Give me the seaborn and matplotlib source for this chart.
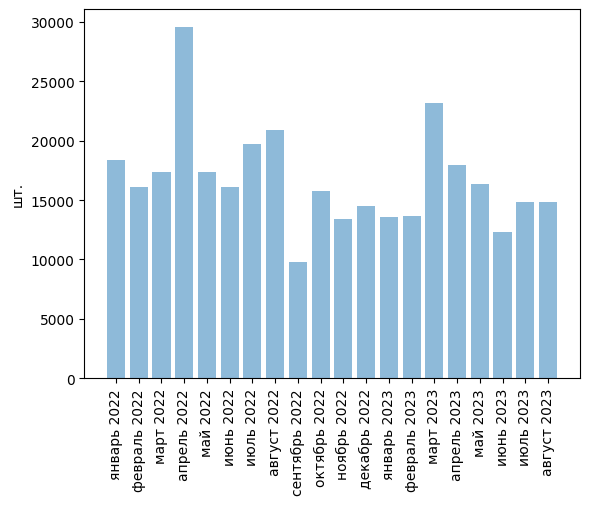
import matplotlib
matplotlib.use("Agg")
import matplotlib.pyplot as plt
import seaborn as sns

months = [
    "январь 2022", "февраль 2022", "март 2022", "апрель 2022", "май 2022",
    "июнь 2022", "июль 2022", "август 2022", "сентябрь 2022", "октябрь 2022",
    "ноябрь 2022", "декабрь 2022", "январь 2023", "февраль 2023", "март 2023",
    "апрель 2023", "май 2023", "июнь 2023", "июль 2023", "август 2023",
]
units = [
    18340, 16070, 17330, 29600, 17330,
    16070, 19690, 20860, 9770, 15740,
    13390, 14480, 13560, 13640, 23210,
    17920, 16330, 12300, 14830, 14830,
]

fig, ax = plt.subplots(figsize=(5.89, 5.06), dpi=100)
fig.subplots_adjust(left=84.3 / 589, right=579.7 / 589, top=1 - 10 / 506, bottom=1 - 379.3 / 506)

sns.barplot(x=months, y=units, color="tab:blue", alpha=0.5, saturation=1, width=0.8, ax=ax)

n = len(months)
pad = 0.05 * (n - 1 + 0.8)
ax.set_xlim(-0.4 - pad, n - 1 + 0.4 + pad)
ax.tick_params(axis="x", rotation=90)
ax.set_ylabel("шт.")
ax.set_xlabel("")

fig.savefig("out.png", dpi=100)
